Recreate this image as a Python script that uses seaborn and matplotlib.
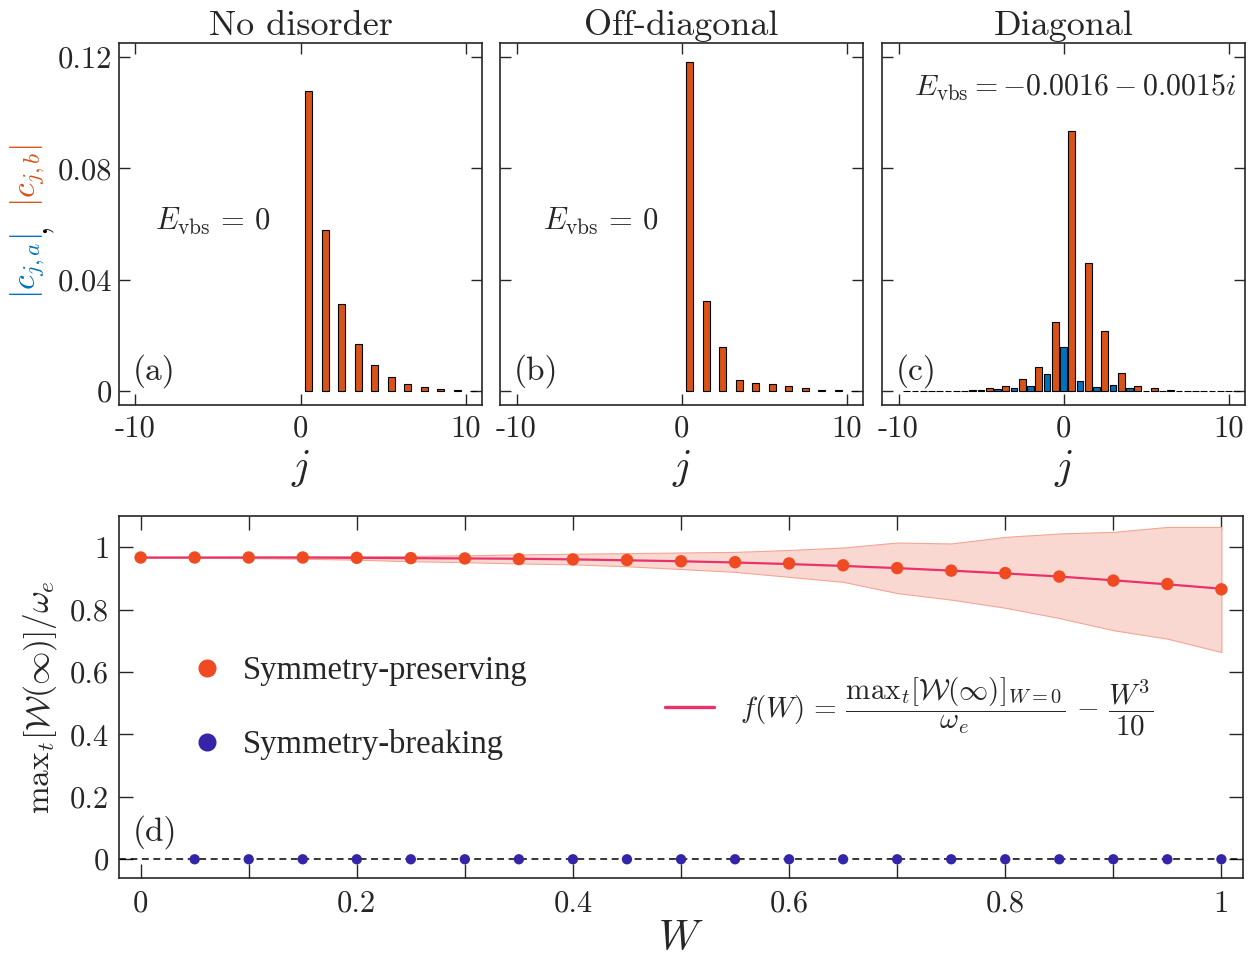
import numpy as np
import pandas as pd
import matplotlib
matplotlib.use("Agg")
import matplotlib.pyplot as plt
from matplotlib.lines import Line2D
import seaborn as sns

# ---------------- data ----------------
# panel (a): |c_{j,b}| for j = 0..10 (b sites sit at j+0.5)
j_a = [0, 1, 2, 3, 4, 5, 6, 7, 8, 9, 10]
cb_a = [0.1076, 0.0580, 0.0313, 0.0169, 0.0092, 0.0049, 0.0027, 0.0014, 0.0008, 0.0004, 0.0002]
# panel (b)
j_b = [0, 1, 2, 3, 4, 5, 6, 7, 8, 9, 10]
cb_b = [0.1182, 0.0322, 0.0158, 0.0038, 0.0028, 0.0024, 0.0017, 0.0010, 0.0004, 0.0003, 0.0002]
# panel (c): a sites at j = -9..10, b sites at j+0.5 for j = -10..10
j_c_a = [-9, -8, -7, -6, -5, -4, -3, -2, -1, 0, 1, 2, 3, 4, 5, 6, 7, 8, 9, 10]
ca_c = [0.00005, 0.00005, 0.0001, 0.0002, 0.0003, 0.0006, 0.0010, 0.0017, 0.0060, 0.0159,
        0.0036, 0.0014, 0.0023, 0.0010, 0.0002, 0.0001, 0.00005, 0.00005, 0.00005, 0.00005]
j_c_b = [-10, -9, -8, -7, -6, -5, -4, -3, -2, -1, 0, 1, 2, 3, 4, 5, 6, 7, 8, 9, 10]
cb_c = [0.00005, 0.00005, 0.0001, 0.0001, 0.0003, 0.0010, 0.0020, 0.0045, 0.0085, 0.0248,
        0.0934, 0.0459, 0.0214, 0.0064, 0.0020, 0.0010, 0.0003, 0.0001, 0.00005, 0.00005, 0.00005]

# panel (d)
W = [0.0, 0.05, 0.1, 0.15, 0.2, 0.25, 0.3, 0.35, 0.4, 0.45, 0.5,
     0.55, 0.6, 0.65, 0.7, 0.75, 0.8, 0.85, 0.9, 0.95, 1.0]
sym_pres = [0.967, 0.967, 0.967, 0.967, 0.966, 0.965, 0.964, 0.962, 0.961, 0.959, 0.955,
            0.952, 0.948, 0.942, 0.933, 0.925, 0.917, 0.906, 0.893, 0.882, 0.865]
f_line = [0.967, 0.967, 0.967, 0.967, 0.966, 0.965, 0.964, 0.963, 0.961, 0.958, 0.955,
          0.951, 0.946, 0.940, 0.933, 0.925, 0.916, 0.906, 0.894, 0.881, 0.867]
band_up = [0.967, 0.968, 0.969, 0.970, 0.971, 0.972, 0.974, 0.977, 0.979, 0.981, 0.983,
           0.985, 0.991, 0.999, 1.015, 1.012, 1.033, 1.044, 1.049, 1.065, 1.065]
band_lo = [0.967, 0.966, 0.965, 0.963, 0.960, 0.955, 0.952, 0.948, 0.945, 0.939, 0.930,
           0.921, 0.905, 0.889, 0.853, 0.832, 0.806, 0.773, 0.734, 0.707, 0.664]
W_brk = [0.05, 0.1, 0.15, 0.2, 0.25, 0.3, 0.35, 0.4, 0.45, 0.5,
         0.55, 0.6, 0.65, 0.7, 0.75, 0.8, 0.85, 0.9, 0.95, 1.0]
sym_brk = [0.0] * 20

titles = ["No disorder", "Off-diagonal", "Diagonal"]

# ---------------- style ----------------
sns.set_style("ticks")
plt.rcParams["font.family"] = ["cmr10"]
plt.rcParams["mathtext.fontset"] = "cm"
plt.rcParams["axes.unicode_minus"] = False
plt.rcParams["axes.formatter.use_mathtext"] = True

ORANGE = "#D95319"
BLUE = "#0072BD"
RED_PT = "#F04A22"
LINE_C = "#E8336A"
BAND_C = "#F9D8D2"
BAND_E = "#F2A595"
BLUE_PT = "#3324A8"
SPINE = "#262626"

W_PX, H_PX = 1258, 956
fig = plt.figure(figsize=(W_PX / 100, H_PX / 100), dpi=100)


def rect(x0, y0, x1, y1):
    return [x0 / W_PX, 1 - y1 / H_PX, (x1 - x0) / W_PX, (y1 - y0) / H_PX]


ax_a = fig.add_axes(rect(119, 43, 482, 405))
ax_b = fig.add_axes(rect(500, 43, 863, 405))
ax_c = fig.add_axes(rect(882, 43, 1245, 405))
ax_d = fig.add_axes(rect(119, 516, 1243, 878))


def bars(ax, j, vals, color, offset):
    df = pd.DataFrame({"x": [v + offset for v in j], "y": vals})
    sns.barplot(data=df, x="x", y="y", native_scale=True, width=0.42, color=color,
                saturation=1, edgecolor="black", linewidth=0.8, errorbar=None, ax=ax)


bars(ax_a, j_a, cb_a, ORANGE, 0.5)
bars(ax_b, j_b, cb_b, ORANGE, 0.5)
bars(ax_c, j_c_a, ca_c, BLUE, 0.0)
bars(ax_c, j_c_b, cb_c, ORANGE, 0.5)

for i, ax in enumerate([ax_a, ax_b, ax_c]):
    ax.set_xlim(-11, 11)
    ax.set_ylim(-0.005, 0.125)
    ax.set_xticks([-10, 0, 10])
    ax.set_xticklabels(["-10", "0", "10"])
    ax.set_yticks([0, 0.04, 0.08, 0.12])
    ax.set_yticklabels(["0", "0.04", "0.08", "0.12"])
    ax.tick_params(direction="in", length=8, width=1, top=True, right=True,
                   labelsize=22, pad=7, color=SPINE)
    ax.tick_params(axis="y", pad=5)
    if i > 0:
        ax.tick_params(labelleft=False)
    for s in ax.spines.values():
        s.set_linewidth(1.2)
        s.set_color(SPINE)
    ax.set_title(titles[i], fontsize=26, pad=6)
    ax.set_xlabel(r"$j$", fontsize=30, labelpad=4)
    ax.set_ylabel("")

# text annotations
ax_a.text(-8.8, 0.061, r"$E_{\mathrm{vbs}}\,=\,0$", fontsize=22, ha="left", va="center")
ax_b.text(-8.4, 0.061, r"$E_{\mathrm{vbs}}\,=\,0$", fontsize=22, ha="left", va="center")
ax_c.text(-9.05, 0.109, r"$E_{\mathrm{vbs}}=-0.0016-0.0015i$", fontsize=21.5, ha="left", va="center")
for ax, lab in zip([ax_a, ax_b, ax_c], ["(a)", "(b)", "(c)"]):
    ax.text(0.039, 0.095, lab, transform=ax.transAxes, fontsize=24, ha="left", va="center")

# coloured y-label for top row
fig.text(28 / W_PX, 1 - 266 / H_PX, r"$|c_{j,a}|$", color=BLUE, fontsize=24,
         rotation=90, ha="center", va="center")
fig.text(37 / W_PX, 1 - 228 / H_PX, ",", color="black", fontsize=24,
         rotation=90, ha="center", va="center")
fig.text(28 / W_PX, 1 - 175 / H_PX, r"$|c_{j,b}|$", color=ORANGE, fontsize=24,
         rotation=90, ha="center", va="center")

# ---------------- panel (d) ----------------
ax = ax_d
ax.fill_between(W, band_lo, band_up, color=BAND_C, edgecolor=BAND_E, linewidth=0.8, zorder=1)
ax.axhline(0, color="black", lw=1.1, ls=(0, (4.5, 3)), zorder=2)
sns.lineplot(x=W, y=f_line, color=LINE_C, lw=1.6, ax=ax, zorder=3)
sns.scatterplot(x=W, y=sym_pres, color=RED_PT, s=80, edgecolor="none", ax=ax, zorder=4)
sns.scatterplot(x=W_brk, y=sym_brk, color=BLUE_PT, s=55, edgecolor="none", ax=ax, zorder=4)

ax.set_xlim(-0.02, 1.02)
ax.set_ylim(-0.06, 1.1)
ax.set_xticks([0, 0.1, 0.2, 0.3, 0.4, 0.5, 0.6, 0.7, 0.8, 0.9, 1.0])
ax.set_xticklabels(["0", "", "0.2", "", "0.4", "", "0.6", "", "0.8", "", "1"])
ax.set_yticks([0, 0.2, 0.4, 0.6, 0.8, 1.0])
ax.set_yticklabels(["0", "0.2", "0.4", "0.6", "0.8", "1"])
ax.tick_params(direction="in", length=10, width=1, top=True, right=True,
               labelsize=22, pad=9, color=SPINE)
ax.tick_params(axis="y", pad=7)
for s in ax.spines.values():
    s.set_linewidth(1.2)
    s.set_color(SPINE)
ax.set_xlabel(r"$W$", fontsize=30, labelpad=2)
ax.set_ylabel(r"$\mathrm{max}_t[\mathcal{W}(\infty)]/\omega_e$", fontsize=24, labelpad=8)
ax.text(0.0125, 0.127, "(d)", transform=ax.transAxes, fontsize=24, ha="left", va="center")

h1 = [Line2D([], [], marker="o", ls="", color=RED_PT, markersize=12),
      Line2D([], [], marker="o", ls="", color=BLUE_PT, markersize=12)]
leg1 = ax.legend(h1, ["Symmetry-preserving", "Symmetry-breaking"],
                 prop={"family": "Liberation Serif", "size": 23.5},
                 loc="center left", bbox_to_anchor=(174 / W_PX, 1 - 708 / H_PX),
                 bbox_transform=fig.transFigure, frameon=False, borderpad=0,
                 handlelength=1.0, handletextpad=0.62, labelspacing=1.33)
ax.add_artist(leg1)
h2 = [Line2D([], [], color=LINE_C, lw=2.4)]
ax.legend(h2, [r"$f(W)\,=\,\dfrac{\mathrm{max}_t[\mathcal{W}(\infty)]_{W=0}}{\omega_e}\,-\,\dfrac{W^3}{10}$"],
          prop={"size": 21}, loc="center left",
          bbox_to_anchor=(650 / W_PX, 1 - 707 / H_PX), bbox_transform=fig.transFigure,
          frameon=False, borderpad=0, handlelength=1.7, handletextpad=0.9)

fig.savefig("out.png", dpi=100)
